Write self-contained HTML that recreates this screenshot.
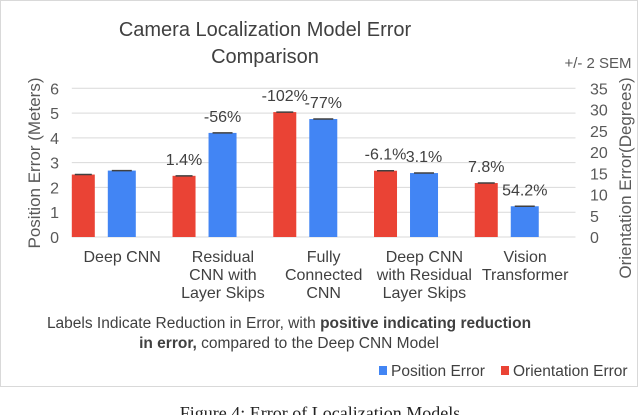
<!DOCTYPE html>
<html><head><meta charset="utf-8"><style>
body{margin:0;background:#fff;width:640px;height:415px;overflow:hidden}
svg{display:block;font-family:"Liberation Sans",sans-serif}
</style></head><body>
<svg id="c" width="640" height="415">
<rect x="0.5" y="0.5" width="637" height="386" fill="#fff" stroke="#d9d9d9"/>
<text x="265" y="36" font-size="20" fill="#404040" text-anchor="middle">Camera Localization Model Error</text>
<text x="265" y="63" font-size="20" fill="#404040" text-anchor="middle">Comparison</text>
<text x="598" y="68" font-size="15" fill="#595959" text-anchor="middle">+/- 2 SEM</text>
<g id="grid"></g><g id="bars"></g>
<text transform="translate(40,163) rotate(-90)" font-size="17" fill="#595959" text-anchor="middle">Position Error (Meters)</text>
<text transform="translate(631,178) rotate(-90)" font-size="17" fill="#595959" text-anchor="middle">Orientation Error(Degrees)</text>
<text x="289" y="328" font-size="15.5" fill="#404040" text-anchor="middle">Labels Indicate Reduction in Error, with <tspan font-weight="bold">positive indicating reduction</tspan></text>
<text x="289" y="348" font-size="15.5" fill="#404040" text-anchor="middle"><tspan font-weight="bold">in error,</tspan> compared to the Deep CNN Model</text>
<g>
<rect x="379" y="366" width="8" height="9" fill="#4285f4"/>
<text x="391" y="376" font-size="15.5" fill="#404040">Position Error</text>
<rect x="501" y="366" width="8" height="9" fill="#ea4335"/>
<text x="513" y="376" font-size="15.5" fill="#404040">Orientation Error</text>
</g>
<text x="320" y="419" font-size="18" fill="#222" text-anchor="middle" font-family="Liberation Serif,serif">Figure 4: Error of Localization Models</text>
</svg>
<script>
const categories=[["Deep CNN"],["Residual","CNN with","Layer Skips"],["Fully","Connected","CNN"],["Deep CNN","with Residual","Layer Skips"],["Vision","Transformer"]];
const positionError=[2.68,4.2,4.76,2.58,1.24];
const orientationError=[14.7,14.4,29.4,15.6,12.7];
const positionLabels=["","-56%","-77%","3.1%","54.2%"];
const orientationLabels=["","1.4%","-102%","-6.1%","7.8%"];
const leftTicks=[0,1,2,3,4,5,6];
const rightTicks=[0,5,10,15,20,25,30,35];
const NS="http://www.w3.org/2000/svg";
const X0=71.8,X1=575.5,Y0=237,Y1=88.3,band=(X1-X0)/categories.length;
const yL=v=>Y0-(v/6)*(Y0-Y1), yR=v=>Y0-(v/35)*(Y0-Y1);
function mk(p,tag,a){const e=document.createElementNS(NS,tag);for(const k in a)e.setAttribute(k,a[k]);p.appendChild(e);return e;}
const g=document.getElementById('grid'),b=document.getElementById('bars');
leftTicks.forEach(t=>{
 const l=mk(g,'line',{x1:X0,x2:X1,y1:yL(t),y2:yL(t),stroke:'#d9d9d9'});
 
 
 const tx=mk(g,'text',{x:59,y:yL(t)+6,'font-size':16,fill:'#595959','text-anchor':'end'});tx.textContent=t;
 
 
});
rightTicks.forEach(t=>{
 const tx=mk(g,'text',{x:590,y:yR(t)+6,'font-size':16,fill:'#595959'});tx.textContent=t;
 
 
});
categories.forEach((c,i)=>{
 const bx=X0+i*band;
 const rx=bx,ry=yR(orientationError[i]);
 const r=mk(b,'rect',{x:rx,y:ry,width:23,height:Y0-ry,fill:'#ea4335'});
 
 
 const e1=mk(b,'line',{x1:rx+3,x2:rx+20,y1:ry,y2:ry,stroke:'#404040','stroke-width':1.5});
 
 
 const px=bx+36,py=yL(positionError[i]);
 const p=mk(b,'rect',{x:px,y:py,width:28,height:Y0-py,fill:'#4285f4'});
 
 
 const e2=mk(b,'line',{x1:px+4,x2:px+24,y1:py,y2:py,stroke:'#404040','stroke-width':1.5});
 
 
 if(orientationLabels[i]){const t=mk(b,'text',{x:rx+11.5,y:ry-11,'font-size':16,fill:'#404040','text-anchor':'middle'});t.textContent=orientationLabels[i];
  
  }
 if(positionLabels[i]){const t=mk(b,'text',{x:px+14,y:py-11,'font-size':16,fill:'#404040','text-anchor':'middle'});t.textContent=positionLabels[i];
  
  }
 c.forEach((line,k)=>{const t=mk(b,'text',{x:bx+band/2,y:262+k*18,'font-size':16,fill:'#404040','text-anchor':'middle'});t.textContent=line;
  
  });
});
</script>
</body></html>
